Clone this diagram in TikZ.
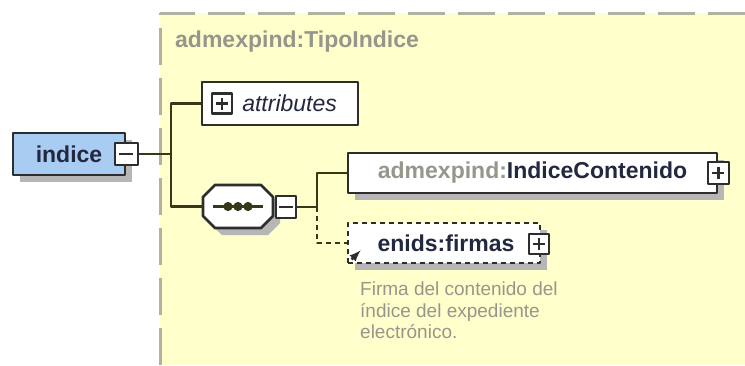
\documentclass[tikz,border=0pt]{standalone}
\usepackage{fontspec}
\setmainfont{Liberation Sans}
\usetikzlibrary{positioning,shadows}

\definecolor{typeyellow}{RGB}{255,255,204}
\definecolor{typeborder}{RGB}{178,178,160}
\definecolor{indiceblue}{RGB}{168,204,242}
\definecolor{boxline}{RGB}{45,45,45}
\definecolor{wireline}{RGB}{55,55,25}
\definecolor{shadowgray}{RGB}{182,182,182}
\definecolor{greytext}{RGB}{150,150,140}
\definecolor{darktext}{RGB}{35,40,65}

\tikzset{
  elbox/.style={draw=boxline,line width=2.8pt,fill=white,inner sep=0pt,
    font=\fontsize{23}{27}\selectfont\bfseries,text=darktext},
  shadowed/.style={general shadow={fill=shadowgray,shadow xshift=7pt,shadow yshift=-7pt}},
  signbox/.style={draw=boxline,line width=2.2pt,fill=white,inner sep=0pt,
    minimum width=20pt,minimum height=20pt},
  minusbox/.style={signbox,path picture={
      \draw[boxline,line width=2.2pt]
        ([xshift=-7pt]path picture bounding box.center) -- ([xshift=7pt]path picture bounding box.center);}},
  plusbox/.style={signbox,path picture={
      \draw[boxline,line width=2.2pt]
        ([xshift=-6pt]path picture bounding box.center) -- ([xshift=6pt]path picture bounding box.center)
        ([yshift=-6pt]path picture bounding box.center) -- ([yshift=6pt]path picture bounding box.center);}},
  wire/.style={draw=wireline,line width=2.8pt},
  optwire/.style={wire,dash pattern=on 5pt off 4pt},
  doctext/.style={text=greytext,font=\fontsize{19}{21.5}\selectfont,align=left,inner sep=0pt}
}

\begin{document}
\begin{tikzpicture}[x=1pt,y=-1pt,line join=round,>=latex]
  \useasboundingbox (0,0) rectangle (745,365);
  % complex type area
  \fill[typeyellow] (160,13) rectangle (745,365);
  \draw[typeborder,line width=3pt,dash pattern=on 37pt off 13pt] (160,365) -- (160,13) -- (745,13);
  \node[anchor=west,text=greytext,font=\fontsize{23}{27}\selectfont\bfseries,inner sep=0pt]
    (typename) at (175,42) {admexpind:TipoIndice};

  % element indice
  \node[elbox,shadowed,fill=indiceblue,minimum width=112pt,minimum height=42pt] (indice) at (69,154) {indice};
  \node[minusbox,minimum width=23pt,minimum height=22pt] (indiceMinus) at (indice.east) {};

  % attributes
  \node[elbox,minimum width=156pt,minimum height=43pt] (attrs) at (280,103.5) {};
  \node[plusbox] (attrsPlus) at (222,103.5) {};
  \node[right=9pt of attrsPlus,inner sep=0pt,font=\fontsize{23}{27}\selectfont\itshape,text=darktext]
    (attrsLabel) {attributes};

  % sequence (octagon)
  \node[minimum width=70pt,minimum height=43pt,inner sep=0pt] (seq) at (238,206.5) {};
  \fill[shadowgray] (222,192) -- (268,192) -- (280,204) -- (280,223) -- (268,235)
    -- (222,235) -- (210,223) -- (210,204) -- cycle;
  \filldraw[fill=white,draw=boxline,line width=2.8pt] (215,185) -- (261,185) -- (273,197) -- (273,216)
    -- (261,228) -- (215,228) -- (203,216) -- (203,197) -- cycle;
  \draw[wire] ([xshift=-25pt]seq.center) -- ([xshift=25pt]seq.center);
  \foreach \i in {-10,0,10}
    \fill[wireline] ([xshift=\i pt]seq.center) circle (4.6);
  \node[minusbox,minimum height=22pt] (seqMinus) at (286,207) {};

  % children of the sequence
  \node[elbox,shadowed,minimum width=369pt,minimum height=40pt] (contenido) at (532.5,173)
    {\textcolor{greytext}{admexpind:}IndiceContenido};
  \node[plusbox,minimum width=21pt,minimum height=22pt] (contenidoPlus) at (contenido.east) {};

  \node[elbox,shadowed,dash pattern=on 5pt off 4pt,minimum width=192pt,minimum height=40pt] (firmas) at (444,243)
    {\hspace{4pt}enids:firmas\hspace{8pt}};
  \node[plusbox] (firmasPlus) at (539,244) {};
  \draw[boxline,line width=2.8pt,->] ([xshift=5pt,yshift=5pt]firmas.south west) -- ++(9,-9);
  \node[doctext,anchor=north west] (firmasDoc) at (360,282)
    {Firma del contenido del\\índice del expediente\\electrónico.};

  % connectors
  \coordinate (forkA) at (171,154);
  \coordinate (forkB) at (317,207);
  \draw[wire] (indiceMinus.east) -- (forkA);
  \draw[wire] (attrs.west) -| (forkA) |- (seq.west);
  \draw[wire] (seqMinus.east) -- (forkB);
  \draw[wire] (forkB) |- (contenido.west);
  \draw[optwire] (forkB) |- (firmas.west);
\end{tikzpicture}
\end{document}
